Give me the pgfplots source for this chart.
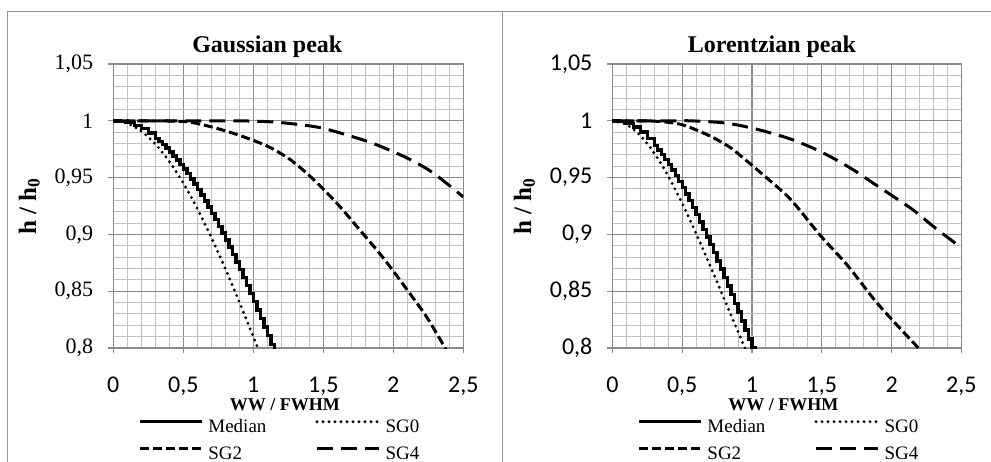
\documentclass[border=0pt]{standalone}
\usepackage{fontspec}
\setmainfont{Liberation Serif}
\newfontfamily\carlito{Carlito}
\usepackage{pgfplots}
\pgfplotsset{compat=1.18}

\definecolor{majgrid}{RGB}{140,140,140}
\definecolor{mingrid}{RGB}{192,192,192}
\definecolor{framec}{RGB}{150,150,150}

\pgfplotsset{
  hpanel/.style={
    scale only axis, height=142pt, anchor=south west,
    xmin=0, xmax=2.5, ymin=0.8, ymax=1.05,
    xtick={0,0.5,1,1.5,2,2.5}, ytick={0.8,0.85,0.9,0.95,1,1.05},
    minor x tick num=4, minor y tick num=4,
    grid=both,
    major grid style={draw=majgrid, line width=0.55pt},
    minor grid style={draw=mingrid, line width=0.5pt},
    axis line style={draw=majgrid, line width=0.55pt},
    tick align=outside, major tick length=2.5pt, minor tick length=0pt,
    tick style={draw=majgrid, line width=0.55pt},
    xtick pos=bottom, ytick pos=left,
    /pgf/number format/use comma,
    /pgf/number format/1000 sep={},
    /pgf/number format/assume math mode=true,
    xticklabel style={font=\carlito\fontsize{12}{13}\selectfont, yshift=-8.5pt},
    yticklabel style={xshift=-4pt},
    every axis x label/.style={at={(axis description cs:0.49,0)}, anchor=base, yshift=-31pt},
    xlabel={\bfseries\fontsize{9}{10}\selectfont WW / FWHM},
    ylabel={\bfseries\fontsize{12.5}{14}\selectfont h / h\textsubscript{0}},
    legend columns=2,
    legend style={draw=none, fill=none, inner sep=0pt, outer sep=0pt,
      at={(axis description cs:0.0706,-0.242)}, anchor=north west,
      font=\fontsize{9.5}{11}\selectfont, /tikz/column sep=0pt,
      /tikz/every even column/.append style={column sep=22pt}, /tikz/row sep=2.5pt,
      nodes={inner xsep=2.5pt, inner ysep=1pt, text height=7pt, text depth=2pt}},
    legend cell align=left,
    legend image code/.code={\draw[#1] (0pt,3pt) -- (31pt,3pt);},
  },
  med/.style={black, line width=1.7pt, const plot},
  sgz/.style={black, line width=1.6pt, line cap=round, dash pattern=on 0pt off 3pt, smooth},
  sgt/.style={black, line width=1.5pt, dash pattern=on 4.5pt off 2pt, smooth},
  sgf/.style={black, line width=1.5pt, dash pattern=on 8pt off 4pt, smooth},
}

\begin{document}
\begin{tikzpicture}
\useasboundingbox (0,0) rectangle (495.5pt,230.5pt);
\draw[framec, line width=0.75pt] (3.65pt,-5pt) -- (3.65pt,224.65pt) -- (500pt,224.65pt);
\draw[framec, line width=0.75pt] (251.15pt,-5pt) -- (251.15pt,224.65pt);

% Gaussian peak
\begin{axis}[hpanel, at={(56.65pt,56.5pt)}, width=175pt,
  title={\bfseries\fontsize{12}{14}\selectfont Gaussian peak},
  every axis title/.style={at={(axis description cs:0.44,1)}, anchor=base, yshift=5.8pt},
  every axis y label/.style={at={(axis description cs:-0.24,0.5)}, rotate=90, anchor=center},
  yticklabel style={font=\fontsize{11}{13}\selectfont},
]
\addplot[med] coordinates {(0,1) (0.05,0.99957) (0.1,0.99827) (0.15,0.99611) (0.2,0.99309)
  (0.25,0.98923) (0.3,0.98452) (0.325,0.98186) (0.35,0.979) (0.375,0.97593) (0.4,0.97266)
  (0.425,0.96918) (0.45,0.96551) (0.475,0.96166) (0.5,0.9576) (0.525,0.95336) (0.55,0.94893)
  (0.575,0.94432) (0.6,0.93952) (0.625,0.93455) (0.65,0.9294) (0.675,0.92408) (0.7,0.91859)
  (0.725,0.91294) (0.75,0.90713) (0.775,0.90115) (0.8,0.89502) (0.825,0.88875) (0.85,0.88232)
  (0.875,0.87575) (0.9,0.86904) (0.925,0.8622) (0.95,0.85522) (0.975,0.84812) (1,0.8409)
  (1.025,0.83355) (1.05,0.82609) (1.075,0.81852) (1.1,0.81085) (1.125,0.80307) (1.15,0.79519)
  (1.175,0.78722) (1.2,0.77918)};
\addplot[sgz] coordinates {(0,1) (0.1,0.99769) (0.2,0.99084) (0.3,0.97959) (0.4,0.96423)
  (0.5,0.94511) (0.6,0.92268) (0.7,0.89744) (0.8,0.86988) (0.9,0.84058) (1,0.81) (1.05,0.7944)};
\addplot[sgt] coordinates {(0,1) (0.3,1) (0.45,0.9996) (0.55,0.9988) (0.714,0.9942) (0.905,0.987)
  (1.095,0.978) (1.262,0.966) (1.429,0.9485) (1.6,0.927) (1.76,0.904) (1.93,0.879)
  (2.1,0.851) (2.24,0.827) (2.37,0.8) (2.4,0.794)};
\addplot[sgf] coordinates {(0,1) (0.6,1) (0.833,1) (1,0.9997) (1.19,0.9985) (1.476,0.994)
  (1.762,0.984) (1.929,0.9765) (2.119,0.966) (2.286,0.954) (2.5,0.933)};
\legend{Median, SG0, SG2, SG4}
\end{axis}

% Lorentzian peak
\begin{axis}[hpanel, at={(306.2pt,56.5pt)}, width=174.5pt,
  title={\bfseries\fontsize{12}{14}\selectfont Lorentzian peak},
  every axis title/.style={at={(axis description cs:0.457,1)}, anchor=base, yshift=5.8pt},
  every axis y label/.style={at={(axis description cs:-0.252,0.5)}, rotate=90, anchor=center},
  yticklabel style={font=\carlito\fontsize{12}{13}\selectfont},
]
\addplot[med] coordinates {(0,1) (0.05,0.99938) (0.1,0.99751) (0.15,0.99441) (0.2,0.9901)
  (0.25,0.98462) (0.3,0.978) (0.325,0.97427) (0.35,0.97029) (0.375,0.96604) (0.4,0.96154)
  (0.425,0.95679) (0.45,0.95181) (0.475,0.94661) (0.5,0.94118) (0.525,0.93554) (0.55,0.92969)
  (0.575,0.92365) (0.6,0.91743) (0.625,0.91103) (0.65,0.90447) (0.675,0.89774) (0.7,0.89087)
  (0.725,0.88386) (0.75,0.87671) (0.775,0.86945) (0.8,0.86207) (0.825,0.85459) (0.85,0.84701)
  (0.875,0.83934) (0.9,0.8316) (0.925,0.82379) (0.95,0.81591) (0.975,0.80798) (1,0.8)
  (1.025,0.79198) (1.05,0.78393)};
\addplot[sgz] coordinates {(0,1) (0.1,0.99669) (0.2,0.98698) (0.3,0.97152) (0.4,0.95127)
  (0.5,0.9273) (0.6,0.9007) (0.7,0.87247) (0.8,0.84343) (0.9,0.81424) (0.95,0.79979)};
\addplot[sgt] coordinates {(0,1) (0.2,1) (0.35,0.9993) (0.486,0.997) (0.6,0.992) (0.725,0.985)
  (0.85,0.976) (0.95,0.966) (1.084,0.952) (1.275,0.931) (1.49,0.899) (1.682,0.873)
  (1.873,0.843) (2.017,0.823) (2.184,0.801) (2.2,0.798)};
\addplot[sgf] coordinates {(0,1) (0.4,1) (0.557,1) (0.773,0.9985) (0.909,0.996) (1.084,0.991)
  (1.275,0.984) (1.443,0.9756) (1.586,0.9668) (1.73,0.9565) (1.873,0.9447) (2.017,0.933)
  (2.16,0.921) (2.304,0.9065) (2.459,0.892) (2.5,0.888)};
\legend{Median, SG0, SG2, SG4}
\end{axis}
\end{tikzpicture}
\end{document}
